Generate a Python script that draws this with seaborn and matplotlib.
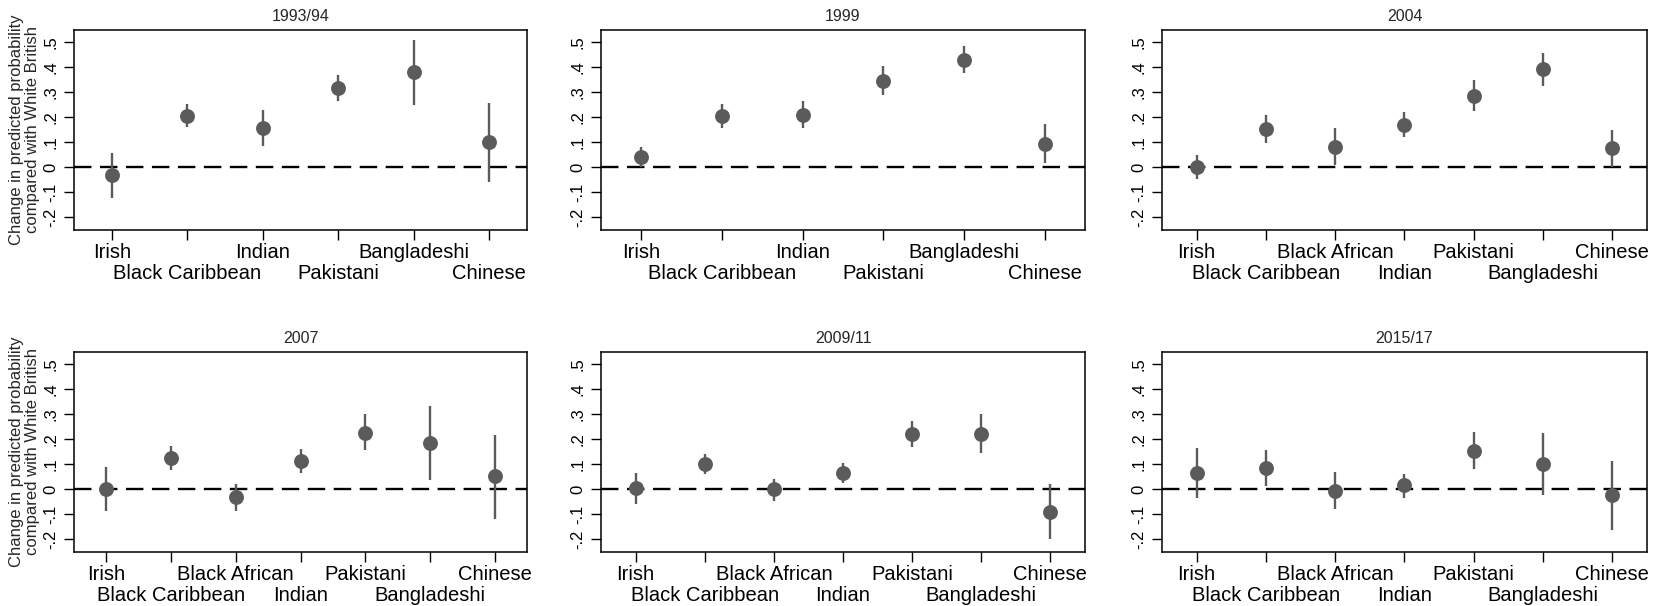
import matplotlib
matplotlib.use("Agg")
import matplotlib.pyplot as plt
import seaborn as sns
import pandas as pd
import numpy as np

# ---------------- data ----------------
groups6 = ["Irish", "Black Caribbean", "Indian", "Pakistani", "Bangladeshi", "Chinese"]
groups7 = ["Irish", "Black Caribbean", "Black African", "Indian", "Pakistani", "Bangladeshi", "Chinese"]

titles = ["1993/94", "1999", "2004", "2007", "2009/11", "2015/17"]

est_1993 = [-0.031, 0.206, 0.156, 0.316, 0.379, 0.101]
lo_1993 = [-0.122, 0.160, 0.083, 0.265, 0.247, -0.059]
hi_1993 = [0.056, 0.254, 0.227, 0.367, 0.509, 0.258]

est_1999 = [0.041, 0.203, 0.210, 0.346, 0.430, 0.093]
lo_1999 = [0.001, 0.155, 0.155, 0.289, 0.378, 0.016]
hi_1999 = [0.082, 0.253, 0.265, 0.404, 0.484, 0.174]

est_2004 = [0.001, 0.154, 0.081, 0.168, 0.286, 0.393, 0.076]
lo_2004 = [-0.048, 0.095, 0.008, 0.119, 0.223, 0.326, 0.000]
hi_2004 = [0.050, 0.208, 0.155, 0.221, 0.349, 0.456, 0.150]

est_2007 = [0.000, 0.126, -0.033, 0.114, 0.226, 0.184, 0.052]
lo_2007 = [-0.089, 0.075, -0.087, 0.063, 0.155, 0.036, -0.120]
hi_2007 = [0.090, 0.173, 0.019, 0.161, 0.300, 0.332, 0.217]

est_2009 = [0.003, 0.102, -0.001, 0.066, 0.221, 0.221, -0.091]
lo_2009 = [-0.060, 0.060, -0.048, 0.025, 0.168, 0.143, -0.198]
hi_2009 = [0.066, 0.142, 0.042, 0.106, 0.272, 0.300, 0.019]

est_2015 = [0.063, 0.086, -0.007, 0.015, 0.153, 0.101, -0.025]
lo_2015 = [-0.036, 0.013, -0.079, -0.036, 0.079, -0.024, -0.163]
hi_2015 = [0.163, 0.157, 0.070, 0.062, 0.229, 0.225, 0.112]

yticks = [-0.2, -0.1, 0.0, 0.1, 0.2, 0.3, 0.4, 0.5]
ytick_labels = ["-.2", "-.1", "0", ".1", ".2", ".3", ".4", ".5"]

panels = [
    (groups6, est_1993, lo_1993, hi_1993),
    (groups6, est_1999, lo_1999, hi_1999),
    (groups7, est_2004, lo_2004, hi_2004),
    (groups7, est_2007, lo_2007, hi_2007),
    (groups7, est_2009, lo_2009, hi_2009),
    (groups7, est_2015, lo_2015, hi_2015),
]

# ---------------- style ----------------
sns.set_style("ticks")
plt.rcParams["font.family"] = ["Liberation Sans", "DejaVu Sans"]

W, H = 1657, 606
fig = plt.figure(figsize=(W / 100, H / 100), dpi=100)

# frame boxes in pixels
col_px = [(74, 527), (601, 1085), (1162, 1647)]
row_px = [(29.5, 229.5), (351.5, 551.5)]

point_color = "#5b5b5b"

for i, (title, (cats, est, lo, hi)) in enumerate(zip(titles, panels)):
    r, c = divmod(i, 3)
    l, rr = col_px[c]
    t, b = row_px[r]
    ax = fig.add_axes([l / W, 1 - b / H, (rr - l) / W, (b - t) / H])

    df = pd.DataFrame({"group": cats, "est": est, "lo": lo, "hi": hi})
    df["pos"] = np.arange(len(cats))

    ax.axhline(0, color="black", lw=1.7, dashes=(7.4, 3.6), zorder=1)
    ax.vlines(df["pos"], df["lo"], df["hi"], color=point_color, lw=1.7, zorder=2)
    sns.scatterplot(data=df, x="pos", y="est", ax=ax, color=point_color,
                    s=115, edgecolor=point_color, linewidth=0, zorder=3, legend=False)

    ax.set_xlim(-0.5, len(cats) - 0.5)
    ax.set_ylim(-0.25, 0.55)
    ax.set_xticks(df["pos"])
    ax.set_xticklabels(cats, fontsize=14.5)
    ax.set_yticks(yticks)
    ax.set_yticklabels(ytick_labels, fontsize=12, rotation=90, va="center")
    ax.tick_params(axis="both", direction="out", length=7, width=1.0, colors="black")
    ax.tick_params(axis="x", pad=3)
    ax.tick_params(axis="y", pad=4)
    for k, tick in enumerate(ax.xaxis.get_major_ticks()):
        tick.set_pad(3 if k % 2 == 0 else 17.5)
    ax.set_xlabel("")
    ax.set_ylabel("")
    for sp in ax.spines.values():
        sp.set_visible(True)
        sp.set_linewidth(1.1)
        sp.set_color("black")
    ax.set_title(title, fontsize=11.5, pad=6)
    if c == 0:
        ax.set_ylabel("Change in predicted probability\ncompared with White British",
                      fontsize=12, labelpad=3, linespacing=1.05)

fig.savefig("out.png", dpi=100, facecolor="white")
